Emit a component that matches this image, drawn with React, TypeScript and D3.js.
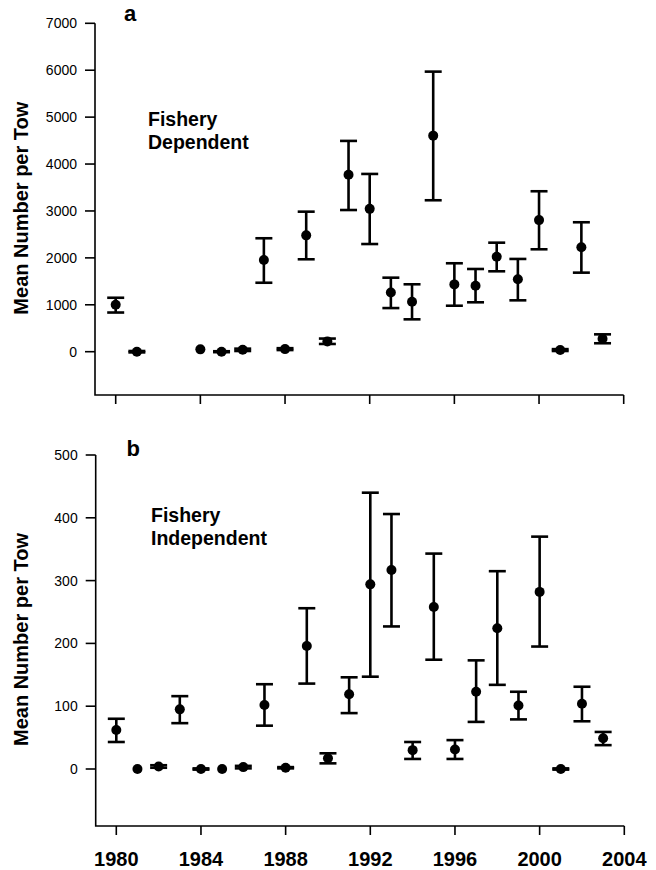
import React from "react";
import * as d3 from "d3";

const yearsA = [1980, 1981, 1984, 1985, 1986, 1987, 1988, 1989, 1990, 1991, 1992, 1993, 1994, 1995, 1996, 1997, 1998, 1999, 2000, 2001, 2002, 2003];
const meanA = [1000, 0, 50, 0, 40, 1955, 55, 2480, 220, 3770, 3045, 1260, 1065, 4605, 1435, 1405, 2025, 1545, 2805, 35, 2225, 275];
const lowA: (number | null)[] = [835, -15, null, -10, 15, 1470, 35, 1970, 165, 3020, 2295, 930, 690, 3228, 980, 1053, 1714, 1095, 2183, 15, 1685, 180];
const highA: (number | null)[] = [1150, 15, null, 10, 65, 2418, 75, 2985, 280, 4493, 3789, 1578, 1437, 5970, 1885, 1763, 2324, 1977, 3420, 55, 2759, 370];

const yearsB = [1980, 1981, 1982, 1983, 1984, 1985, 1986, 1987, 1988, 1989, 1990, 1991, 1992, 1993, 1994, 1995, 1996, 1997, 1998, 1999, 2000, 2001, 2002, 2003];
const meanB = [62, 0, 4, 95, 0, 0, 3, 102, 2, 196, 17, 119, 294, 317, 30, 258, 31, 123, 224, 101, 282, 0, 104, 49];
const lowB: (number | null)[] = [43, null, 2, 73, -1, null, 1, 69, 1, 136, 9, 89, 147, 227, 16, 174, 16, 75, 134, 79, 195, -1, 76, 38];
const highB: (number | null)[] = [80, null, 6, 116, 1, null, 5, 135, 3, 256, 25, 146, 440, 406, 43, 343, 46, 173, 315, 123, 370, 1, 131, 59];

const xTicks = [1980, 1984, 1988, 1992, 1996, 2000, 2004];
const yTicksA = [0, 1000, 2000, 3000, 4000, 5000, 6000, 7000];
const yTicksB = [0, 100, 200, 300, 400, 500];

const FONT = "Liberation Sans, Arial, Helvetica, sans-serif";

type PanelProps = {
  years: number[];
  mean: number[];
  low: (number | null)[];
  high: (number | null)[];
  yTicks: number[];
  yMax: number;
  yTop: number;
  yZero: number;
  axisBottom: number;
  axisX: number;
  x0: number;
  x1: number;
  letter: string;
  letterX: number;
  letterY: number;
  line1: string;
  line2: string;
  textX: number;
  textY: number;
  showXLabels: boolean;
};

function Panel(p: PanelProps) {
  const x = d3.scaleLinear().domain([1980, 2004]).range([p.x0, p.x1]);
  const y = d3.scaleLinear().domain([0, p.yMax]).range([p.yZero, p.yTop]);
  const capW = 8.5;
  const titleY = (p.yTop + p.axisBottom) / 2 - 1;
  return (
    <g>
      <path
        d={`M${p.axisX},${p.yTop} V${p.axisBottom} H${p.x1}`}
        fill="none"
        stroke="#000"
        strokeWidth={1.6}
      />
      {p.yTicks.map((t) => (
        <g key={"y" + t}>
          <line x1={p.axisX - 10} x2={p.axisX} y1={y(t)} y2={y(t)} stroke="#000" strokeWidth={1.6} />
          <text x={p.axisX - 18} y={y(t)} dy="0.35em" textAnchor="end" fontSize={14} fontFamily={FONT} fill="#000">
            {t}
          </text>
        </g>
      ))}
      {xTicks.map((t) => (
        <g key={"x" + t}>
          <line x1={x(t)} x2={x(t)} y1={p.axisBottom} y2={p.axisBottom + 9} stroke="#000" strokeWidth={1.6} />
          {p.showXLabels && (
            <text x={x(t)} y={p.axisBottom + 40} textAnchor="middle" fontSize={20} fontWeight="bold" fontFamily={FONT} fill="#000">
              {t}
            </text>
          )}
        </g>
      ))}
      <text
        transform={`translate(28,${titleY}) rotate(-90)`}
        textAnchor="middle"
        fontSize={20}
        fontWeight="bold"
        fontFamily={FONT}
        fill="#000"
      >
        Mean Number per Tow
      </text>
      <text x={p.letterX} y={p.letterY} fontSize={22} fontWeight="bold" fontFamily={FONT} fill="#000">
        {p.letter}
      </text>
      <text x={p.textX} y={p.textY} fontSize={19.5} fontWeight="bold" fontFamily={FONT} fill="#000">
        {p.line1}
      </text>
      <text x={p.textX} y={p.textY + 22.5} fontSize={19.5} fontWeight="bold" fontFamily={FONT} fill="#000">
        {p.line2}
      </text>
      {p.years.map((yr, i) => {
        const cx = x(yr);
        const lo = p.low[i];
        const hi = p.high[i];
        return (
          <g key={"p" + yr}>
            {lo !== null && hi !== null && (
              <g stroke="#000" strokeWidth={2.6}>
                <line x1={cx} x2={cx} y1={y(lo)} y2={y(hi)} />
                <line x1={cx - capW} x2={cx + capW} y1={y(lo)} y2={y(lo)} />
                <line x1={cx - capW} x2={cx + capW} y1={y(hi)} y2={y(hi)} />
              </g>
            )}
            <circle cx={cx} cy={y(p.mean[i])} r={5} fill="#000" />
          </g>
        );
      })}
    </g>
  );
}

export default function App() {
  return (
    <svg
      width={656}
      height={870}
      viewBox="0 0 656 870"
      style={{ position: "absolute", left: 0, top: 0, background: "#fff" }}
    >
      <rect width={656} height={870} fill="#fff" />
      <Panel
        years={yearsA}
        mean={meanA}
        low={lowA}
        high={highA}
        yTicks={yTicksA}
        yMax={7000}
        yTop={23.3}
        yZero={351.7}
        axisBottom={395}
        axisX={95}
        x0={115.7}
        x1={623.7}
        letter="a"
        letterX={124}
        letterY={20.5}
        line1="Fishery"
        line2="Dependent"
        textX={148}
        textY={126}
        showXLabels={false}
      />
      <Panel
        years={yearsB}
        mean={meanB}
        low={lowB}
        high={highB}
        yTicks={yTicksB}
        yMax={500}
        yTop={455}
        yZero={769}
        axisBottom={826}
        axisX={95.7}
        x0={116.3}
        x1={624.3}
        letter="b"
        letterX={126.5}
        letterY={456}
        line1="Fishery"
        line2="Independent"
        textX={151}
        textY={522}
        showXLabels={true}
      />
    </svg>
  );
}
